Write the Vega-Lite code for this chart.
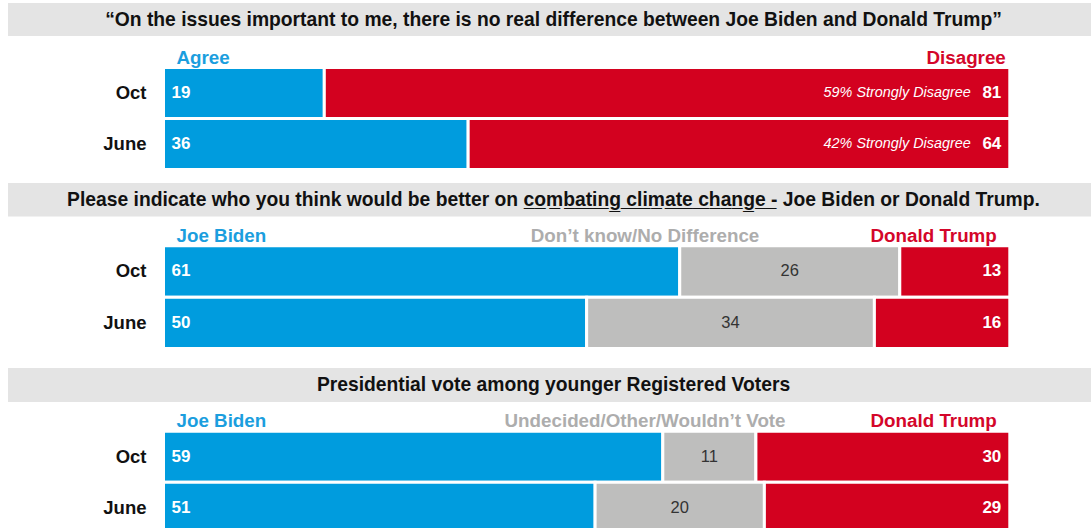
{
  "$schema": "https://vega.github.io/schema/vega-lite/v6.json",
  "padding": {"left": 8, "top": 3, "right": 0, "bottom": 0},
  "background": "white",
  "spacing": 0,
  "bounds": "flush",
  "config": {"view": {"stroke": null}, "font": "Liberation Sans"},
  "datasets": {
    "bars": [
      {"panel": "p1", "period": "Oct", "cat": "left", "order": 1, "value": 19, "note": ""},
      {"panel": "p1", "period": "Oct", "cat": "right", "order": 3, "value": 81, "note": "59% Strongly Disagree"},
      {"panel": "p1", "period": "June", "cat": "left", "order": 1, "value": 36, "note": ""},
      {"panel": "p1", "period": "June", "cat": "right", "order": 3, "value": 64, "note": "42% Strongly Disagree"},
      {"panel": "p2", "period": "Oct", "cat": "left", "order": 1, "value": 61, "note": ""},
      {"panel": "p2", "period": "Oct", "cat": "mid", "order": 2, "value": 26, "note": ""},
      {"panel": "p2", "period": "Oct", "cat": "right", "order": 3, "value": 13, "note": ""},
      {"panel": "p2", "period": "June", "cat": "left", "order": 1, "value": 50, "note": ""},
      {"panel": "p2", "period": "June", "cat": "mid", "order": 2, "value": 34, "note": ""},
      {"panel": "p2", "period": "June", "cat": "right", "order": 3, "value": 16, "note": ""},
      {"panel": "p3", "period": "Oct", "cat": "left", "order": 1, "value": 59, "note": ""},
      {"panel": "p3", "period": "Oct", "cat": "mid", "order": 2, "value": 11, "note": ""},
      {"panel": "p3", "period": "Oct", "cat": "right", "order": 3, "value": 30, "note": ""},
      {"panel": "p3", "period": "June", "cat": "left", "order": 1, "value": 51, "note": ""},
      {"panel": "p3", "period": "June", "cat": "mid", "order": 2, "value": 20, "note": ""},
      {"panel": "p3", "period": "June", "cat": "right", "order": 3, "value": 29, "note": ""}
    ],
    "heads": [
      {"panel": "p1", "side": "left", "label": "Agree"},
      {"panel": "p1", "side": "right", "label": "Disagree"},
      {"panel": "p2", "side": "left", "label": "Joe Biden"},
      {"panel": "p2", "side": "mid", "label": "Don’t know/No Difference"},
      {"panel": "p2", "side": "right", "label": "Donald Trump"},
      {"panel": "p3", "side": "left", "label": "Joe Biden"},
      {"panel": "p3", "side": "mid", "label": "Undecided/Other/Wouldn’t Vote"},
      {"panel": "p3", "side": "right", "label": "Donald Trump"}
    ],
    "titles": [
      {"panel": "p1", "title": "“On the issues important to me, there is no real difference between Joe Biden and Donald Trump”"},
      {"panel": "p2", "title": "Please indicate who you think would be better on c̲o̲m̲b̲a̲t̲i̲n̲g̲ ̲c̲l̲i̲m̲a̲t̲e̲ ̲c̲h̲a̲n̲g̲e̲ ̲- Joe Biden or Donald Trump."},
      {"panel": "p3", "title": "Presidential vote among younger Registered Voters"}
    ]
  },
  "vconcat": [
    {
      "width": 1083, "height": 33,
      "view": {"fill": "#E4E4E4", "stroke": null},
      "data": {"name": "titles"},
      "transform": [{"filter": "datum.panel == 'p1'"}],
      "mark": {"type": "text", "fontWeight": "bold", "fontSize": 19.3, "color": "#111111", "dx": 4, "baseline": "middle"},
      "encoding": {"text": {"field": "title", "type": "nominal"}}
    },
    {
      "width": 1083, "height": 146.3,
      "data": {"name": "bars"},
      "transform": [{"filter": "datum.panel == 'p1'"}],
      "encoding": {
        "y": {"field": "period", "type": "nominal", "axis": null,
              "scale": {"domain": ["Oct", "June"], "paddingInner": 0, "paddingOuter": 0.434, "align": 0.713}}
      },
      "layer": [
        {
          "mark": {"type": "bar", "stroke": "white", "strokeWidth": 3},
          "encoding": {
            "x": {"field": "value", "type": "quantitative", "stack": "zero", "axis": null,
                  "scale": {"domain": [-18.374, 109.595], "nice": false, "zero": false}},
            "color": {"field": "cat", "type": "nominal", "legend": null,
                      "scale": {"domain": ["left", "mid", "right"], "range": ["#009CDE", "#BEBEBD", "#D3011F"]}},
            "order": {"field": "order", "type": "quantitative"}
          }
        },
        {
          "transform": [{"filter": "datum.cat == 'left'"}],
          "mark": {"type": "text", "align": "left", "baseline": "middle", "dx": 8, "fontWeight": "bold", "fontSize": 17, "color": "white"},
          "encoding": {"x": {"datum": 0, "type": "quantitative"}, "text": {"field": "value", "type": "quantitative"}}
        },
        {
          "transform": [{"filter": "datum.cat == 'right'"}],
          "mark": {"type": "text", "align": "right", "baseline": "middle", "dx": -8.5, "fontWeight": "bold", "fontSize": 17, "color": "white"},
          "encoding": {"x": {"datum": 100, "type": "quantitative"}, "text": {"field": "value", "type": "quantitative"}}
        },
        {
          "transform": [{"filter": "datum.cat == 'right'"}],
          "mark": {"type": "text", "align": "right", "baseline": "middle", "dx": -39, "fontStyle": "italic", "fontSize": 14.4, "color": "white"},
          "encoding": {"x": {"datum": 100, "type": "quantitative"}, "text": {"field": "note", "type": "nominal"}}
        },
        {
          "transform": [{"filter": "datum.cat == 'left'"}],
          "mark": {"type": "text", "align": "right", "baseline": "middle", "dx": -17, "fontWeight": "bold", "fontSize": 18.5, "color": "#111111"},
          "encoding": {"x": {"datum": 0, "type": "quantitative"}, "text": {"field": "period", "type": "nominal"}}
        },
        {
          "data": {"name": "heads"},
          "transform": [{"filter": "datum.panel == 'p1' && datum.side == 'left'"}],
          "mark": {"type": "text", "align": "left", "baseline": "alphabetic", "dx": 13, "dy": -29.5, "fontWeight": "bold", "fontSize": 18.8, "color": "#1B9EDE"},
          "encoding": {"x": {"datum": 0, "type": "quantitative"}, "y": {"datum": "Oct"}, "text": {"field": "label", "type": "nominal"}}
        },
        {
          "data": {"name": "heads"},
          "transform": [{"filter": "datum.panel == 'p1' && datum.side == 'right'"}],
          "mark": {"type": "text", "align": "right", "baseline": "alphabetic", "dx": -4, "dy": -29.5, "fontWeight": "bold", "fontSize": 18.8, "color": "#D4062A"},
          "encoding": {"x": {"datum": 100, "type": "quantitative"}, "y": {"datum": "Oct"}, "text": {"field": "label", "type": "nominal"}}
        }
      ]
    },
    {
      "width": 1083, "height": 33.4,
      "view": {"fill": "#E4E4E4", "stroke": null},
      "data": {"name": "titles"},
      "transform": [{"filter": "datum.panel == 'p2'"}],
      "mark": {"type": "text", "fontWeight": "bold", "fontSize": 19.3, "color": "#111111", "dx": 4, "baseline": "middle"},
      "encoding": {"text": {"field": "title", "type": "nominal"}}
    },
    {
      "width": 1083, "height": 150.3,
      "data": {"name": "bars"},
      "transform": [{"filter": "datum.panel == 'p2'"}],
      "encoding": {
        "y": {"field": "period", "type": "nominal", "axis": null,
              "scale": {"domain": ["Oct", "June"], "paddingInner": 0, "paddingOuter": 0.4635, "align": 0.605}}
      },
      "layer": [
        {
          "mark": {"type": "bar", "stroke": "white", "strokeWidth": 3},
          "encoding": {
            "x": {"field": "value", "type": "quantitative", "stack": "zero", "axis": null,
                  "scale": {"domain": [-18.374, 109.595], "nice": false, "zero": false}},
            "color": {"field": "cat", "type": "nominal", "legend": null,
                      "scale": {"domain": ["left", "mid", "right"], "range": ["#009CDE", "#BEBEBD", "#D3011F"]}},
            "order": {"field": "order", "type": "quantitative"}
          }
        },
        {
          "mark": {"type": "text", "align": "center", "baseline": "middle", "fontSize": 16.5, "color": "#333333"},
          "encoding": {
            "x": {"field": "value", "type": "quantitative", "stack": "zero", "bandPosition": 0.5},
            "detail": {"field": "cat", "type": "nominal"},
            "order": {"field": "order", "type": "quantitative"},
            "text": {"condition": {"test": "datum.cat == 'mid'", "field": "value", "type": "quantitative"}, "value": ""}
          }
        },
        {
          "transform": [{"filter": "datum.cat == 'left'"}],
          "mark": {"type": "text", "align": "left", "baseline": "middle", "dx": 8, "fontWeight": "bold", "fontSize": 17, "color": "white"},
          "encoding": {"x": {"datum": 0, "type": "quantitative"}, "text": {"field": "value", "type": "quantitative"}}
        },
        {
          "transform": [{"filter": "datum.cat == 'right'"}],
          "mark": {"type": "text", "align": "right", "baseline": "middle", "dx": -8.5, "fontWeight": "bold", "fontSize": 17, "color": "white"},
          "encoding": {"x": {"datum": 100, "type": "quantitative"}, "text": {"field": "value", "type": "quantitative"}}
        },
        {
          "transform": [{"filter": "datum.cat == 'left'"}],
          "mark": {"type": "text", "align": "right", "baseline": "middle", "dx": -17, "fontWeight": "bold", "fontSize": 18.5, "color": "#111111"},
          "encoding": {"x": {"datum": 0, "type": "quantitative"}, "text": {"field": "period", "type": "nominal"}}
        },
        {
          "data": {"name": "heads"},
          "transform": [{"filter": "datum.panel == 'p2' && datum.side == 'left'"}],
          "mark": {"type": "text", "align": "left", "baseline": "alphabetic", "dx": 13, "dy": -29.5, "fontWeight": "bold", "fontSize": 18.8, "color": "#1B9EDE"},
          "encoding": {"x": {"datum": 0, "type": "quantitative"}, "y": {"datum": "Oct"}, "text": {"field": "label", "type": "nominal"}}
        },
        {
          "data": {"name": "heads"},
          "transform": [{"filter": "datum.panel == 'p2' && datum.side == 'mid'"}],
          "mark": {"type": "text", "align": "center", "baseline": "alphabetic", "dy": -29.5, "fontWeight": "bold", "fontSize": 18.8, "color": "#ADADAD"},
          "encoding": {"x": {"datum": 56.9, "type": "quantitative"}, "y": {"datum": "Oct"}, "text": {"field": "label", "type": "nominal"}}
        },
        {
          "data": {"name": "heads"},
          "transform": [{"filter": "datum.panel == 'p2' && datum.side == 'right'"}],
          "mark": {"type": "text", "align": "right", "baseline": "alphabetic", "dx": -13, "dy": -29.5, "fontWeight": "bold", "fontSize": 18.8, "color": "#D4062A"},
          "encoding": {"x": {"datum": 100, "type": "quantitative"}, "y": {"datum": "Oct"}, "text": {"field": "label", "type": "nominal"}}
        }
      ]
    },
    {
      "width": 1083, "height": 34,
      "view": {"fill": "#E4E4E4", "stroke": null},
      "data": {"name": "titles"},
      "transform": [{"filter": "datum.panel == 'p3'"}],
      "mark": {"type": "text", "fontWeight": "bold", "fontSize": 19.3, "color": "#111111", "dx": 4, "baseline": "middle"},
      "encoding": {"text": {"field": "title", "type": "nominal"}}
    },
    {
      "width": 1083, "height": 131.2,
      "data": {"name": "bars"},
      "transform": [{"filter": "datum.panel == 'p3'"}],
      "encoding": {
        "y": {"field": "period", "type": "nominal", "axis": null,
              "scale": {"domain": ["Oct", "June"], "paddingInner": 0, "paddingOuter": 0.286, "align": 1}}
      },
      "layer": [
        {
          "mark": {"type": "bar", "stroke": "white", "strokeWidth": 3},
          "encoding": {
            "x": {"field": "value", "type": "quantitative", "stack": "zero", "axis": null,
                  "scale": {"domain": [-18.374, 109.595], "nice": false, "zero": false}},
            "color": {"field": "cat", "type": "nominal", "legend": null,
                      "scale": {"domain": ["left", "mid", "right"], "range": ["#009CDE", "#BEBEBD", "#D3011F"]}},
            "order": {"field": "order", "type": "quantitative"}
          }
        },
        {
          "mark": {"type": "text", "align": "center", "baseline": "middle", "fontSize": 16.5, "color": "#333333"},
          "encoding": {
            "x": {"field": "value", "type": "quantitative", "stack": "zero", "bandPosition": 0.5},
            "detail": {"field": "cat", "type": "nominal"},
            "order": {"field": "order", "type": "quantitative"},
            "text": {"condition": {"test": "datum.cat == 'mid'", "field": "value", "type": "quantitative"}, "value": ""}
          }
        },
        {
          "transform": [{"filter": "datum.cat == 'left'"}],
          "mark": {"type": "text", "align": "left", "baseline": "middle", "dx": 8, "fontWeight": "bold", "fontSize": 17, "color": "white"},
          "encoding": {"x": {"datum": 0, "type": "quantitative"}, "text": {"field": "value", "type": "quantitative"}}
        },
        {
          "transform": [{"filter": "datum.cat == 'right'"}],
          "mark": {"type": "text", "align": "right", "baseline": "middle", "dx": -8.5, "fontWeight": "bold", "fontSize": 17, "color": "white"},
          "encoding": {"x": {"datum": 100, "type": "quantitative"}, "text": {"field": "value", "type": "quantitative"}}
        },
        {
          "transform": [{"filter": "datum.cat == 'left'"}],
          "mark": {"type": "text", "align": "right", "baseline": "middle", "dx": -17, "fontWeight": "bold", "fontSize": 18.5, "color": "#111111"},
          "encoding": {"x": {"datum": 0, "type": "quantitative"}, "text": {"field": "period", "type": "nominal"}}
        },
        {
          "data": {"name": "heads"},
          "transform": [{"filter": "datum.panel == 'p3' && datum.side == 'left'"}],
          "mark": {"type": "text", "align": "left", "baseline": "alphabetic", "dx": 13, "dy": -30, "fontWeight": "bold", "fontSize": 18.8, "color": "#1B9EDE"},
          "encoding": {"x": {"datum": 0, "type": "quantitative"}, "y": {"datum": "Oct"}, "text": {"field": "label", "type": "nominal"}}
        },
        {
          "data": {"name": "heads"},
          "transform": [{"filter": "datum.panel == 'p3' && datum.side == 'mid'"}],
          "mark": {"type": "text", "align": "center", "baseline": "alphabetic", "dy": -30, "fontWeight": "bold", "fontSize": 18.8, "color": "#ADADAD"},
          "encoding": {"x": {"datum": 56.9, "type": "quantitative"}, "y": {"datum": "Oct"}, "text": {"field": "label", "type": "nominal"}}
        },
        {
          "data": {"name": "heads"},
          "transform": [{"filter": "datum.panel == 'p3' && datum.side == 'right'"}],
          "mark": {"type": "text", "align": "right", "baseline": "alphabetic", "dx": -13, "dy": -30, "fontWeight": "bold", "fontSize": 18.8, "color": "#D4062A"},
          "encoding": {"x": {"datum": 100, "type": "quantitative"}, "y": {"datum": "Oct"}, "text": {"field": "label", "type": "nominal"}}
        }
      ]
    }
  ]
}
